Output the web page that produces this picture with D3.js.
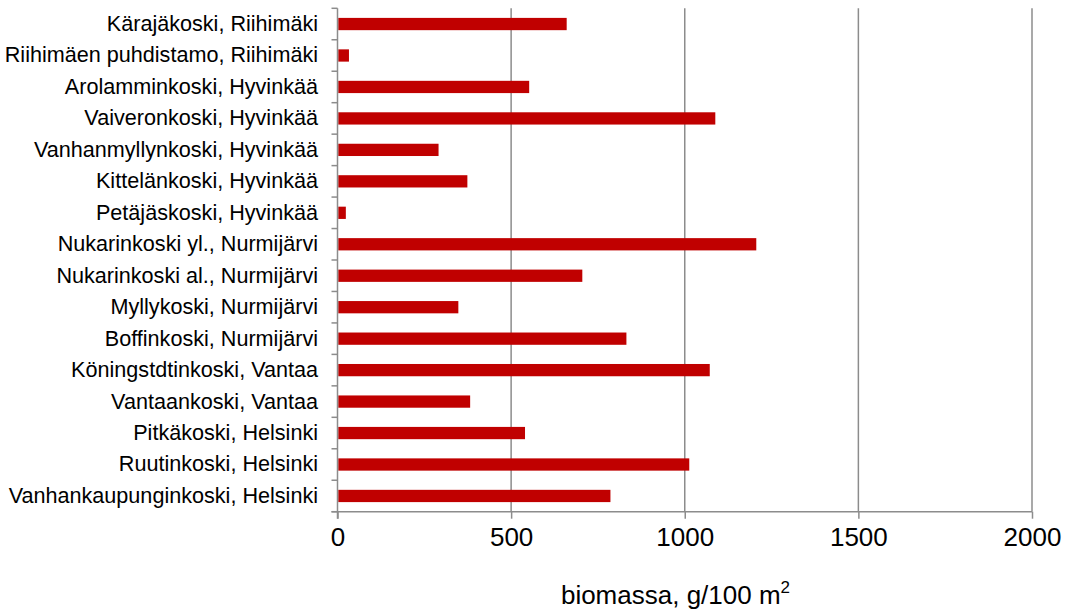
<!DOCTYPE html>
<html><head><meta charset="utf-8">
<script src="https://cdn.jsdelivr.net/npm/d3@7"></script>
<style>
html,body{margin:0;padding:0;background:#fff;}
svg{display:block;}
text{font-family:"Liberation Sans",Arial,sans-serif;fill:#000;}
</style></head>
<body>
<svg id="chart" width="1070" height="612"></svg>
<script>
const categories = [
  "Kärajäkoski, Riihimäki",
  "Riihimäen puhdistamo, Riihimäki",
  "Arolamminkoski, Hyvinkää",
  "Vaiveronkoski, Hyvinkää",
  "Vanhanmyllynkoski, Hyvinkää",
  "Kittelänkoski, Hyvinkää",
  "Petäjäskoski, Hyvinkää",
  "Nukarinkoski yl., Nurmijärvi",
  "Nukarinkoski al., Nurmijärvi",
  "Myllykoski, Nurmijärvi",
  "Boffinkoski, Nurmijärvi",
  "Köningstdtinkoski, Vantaa",
  "Vantaankoski, Vantaa",
  "Pitkäkoski, Helsinki",
  "Ruutinkoski, Helsinki",
  "Vanhankaupunginkoski, Helsinki"
];
const values = [660, 33, 552, 1088, 291, 374, 24, 1206, 705, 348, 832, 1072, 382, 540, 1013, 786];
const xTicks = [0, 500, 1000, 1500, 2000];
const xTitle = "biomassa, g/100 m";
const xTitleSup = "2";

(function () {
const svg = d3.select("#chart");
const pLeft = 337.5, pRight = 1032, pTop = 8.3, pBottom = 511.7;
const x = d3.scaleLinear().domain([0, 2000]).range([pLeft, pRight]);
const y = d3.scaleBand().domain(categories).range([pTop, pBottom]).paddingInner(0.61).paddingOuter(0.305);
const axisColor = "#8c8c8c";
const ff = "'Liberation Sans', Arial, sans-serif";

svg.append("g").selectAll("line").data(xTicks.filter(d => d > 0)).join("line")
  .attr("x1", d => x(d)).attr("x2", d => x(d))
  .attr("y1", pTop).attr("y2", pBottom)
  .attr("stroke", axisColor).attr("stroke-width", 1.5);

svg.append("g").selectAll("rect").data(values).join("rect")
  .attr("x", x(0) + 0.75)
  .attr("y", (d, i) => y(categories[i]))
  .attr("width", d => x(d) - x(0) - 0.75)
  .attr("height", y.bandwidth())
  .attr("fill", "#c00000");

const xAxis = svg.append("g").attr("transform", `translate(0,${pBottom})`)
  .call(d3.axisBottom(x).tickValues(xTicks).tickSize(7).tickPadding(5).tickFormat(d3.format("d")));
xAxis.select(".domain").attr("stroke", axisColor).attr("stroke-width", 1.5)
  .attr("d", `M${pLeft - 6},0H${pRight}`);
xAxis.selectAll(".tick line").attr("stroke", axisColor).attr("stroke-width", 1.5);
xAxis.selectAll(".tick text").attr("font-size", 26).attr("font-family", ff).attr("fill", "#000").attr("dy", "0.85em");

const yAxis = svg.append("g").attr("transform", `translate(${pLeft},0)`)
  .call(d3.axisLeft(y).tickSize(0).tickPadding(19.5));
yAxis.select(".domain").attr("stroke", axisColor).attr("stroke-width", 1.5)
  .attr("d", `M0,${pTop}V${pBottom + 7}`);
yAxis.selectAll(".tick text").attr("font-size", 21.6).attr("font-family", ff).attr("fill", "#000");

const bounds = d3.range(categories.length + 1).map(i => pTop + i * y.step());
svg.append("g").selectAll("line").data(bounds).join("line")
  .attr("x1", pLeft - 6).attr("x2", pLeft)
  .attr("y1", d => d).attr("y2", d => d)
  .attr("stroke", axisColor).attr("stroke-width", 1.5);

const t = svg.append("text").attr("x", 675.5).attr("y", 604)
  .attr("text-anchor", "middle").attr("font-size", 26).attr("font-family", ff);
t.append("tspan").text(xTitle);
t.append("tspan").text(xTitleSup).attr("font-size", 17).attr("dy", -11);
})();
</script>
</body></html>
